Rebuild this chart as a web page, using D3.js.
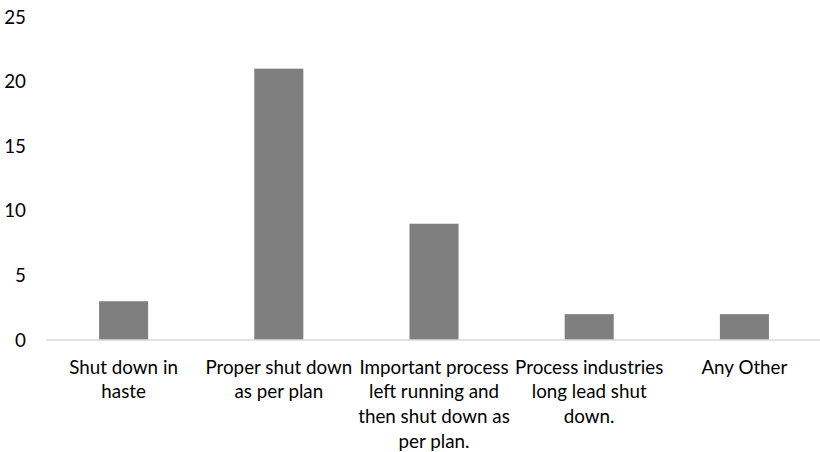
<!DOCTYPE html>
<html>
<head>
<meta charset="utf-8">
<script src="https://cdn.jsdelivr.net/npm/d3@7"></script>
<style>
  html, body { margin: 0; padding: 0; background: #ffffff; }
  svg { display: block; }
  text { font-family: Lato, "Open Sans", sans-serif; fill: #000000; }
</style>
</head>
<body>
<svg id="chart" width="820" height="452"></svg>
<script>
// Wrapped category labels, one entry per line of text
const categories = [
  ["Shut down in", "haste"],
  ["Proper shut down", "as per plan"],
  ["Important process", "left running and", "then shut down as", "per plan."],
  ["Process industries", "long lead shut", "down."],
  ["Any Other"]
];
const values = [3, 21, 9, 2, 2];
const yTicks = [0, 5, 10, 15, 20, 25];

const svg = d3.select("#chart");
const plot = { left: 46, right: 822, top: 17, bottom: 340 };
const fontSize = 18.8;

const keys = categories.map((c, i) => i);

const x = d3.scaleBand()
  .domain(keys)
  .range([plot.left, plot.right])
  .paddingInner(0.684)
  .paddingOuter(0.342);

const y = d3.scaleLinear()
  .domain([0, 25])
  .range([plot.bottom, plot.top]);

// Bars
svg.append("g")
  .selectAll("rect")
  .data(values)
  .join("rect")
  .attr("x", (d, i) => x(i))
  .attr("width", x.bandwidth())
  .attr("y", d => y(d))
  .attr("height", d => y(0) - y(d))
  .attr("fill", "#7f7f7f");

// Baseline
svg.append("line")
  .attr("x1", plot.left).attr("x2", 820)
  .attr("y1", y(0)).attr("y2", y(0))
  .attr("stroke", "#d9d9d9")
  .attr("stroke-width", 1.5);

// Y axis labels (no axis line, no tick marks)
const yAxis = d3.axisLeft(y).tickValues(yTicks).tickSize(0).tickPadding(0);
const gy = svg.append("g")
  .attr("transform", "translate(26,0)")
  .call(yAxis);
gy.select(".domain").remove();
gy.selectAll("text")
  .attr("font-size", fontSize)
  .attr("font-family", "Lato, 'Open Sans', sans-serif")
  .attr("fill", "#000");

// X category labels, centred under each bar
const gx = svg.append("g");
categories.forEach((lines, i) => {
  const t = gx.append("text")
    .attr("text-anchor", "middle")
    .attr("font-size", fontSize)
    .attr("x", x(i) + x.bandwidth() / 2)
    .attr("y", 373.5);
  lines.forEach((ln, j) => {
    t.append("tspan")
      .attr("x", x(i) + x.bandwidth() / 2)
      .attr("dy", j === 0 ? 0 : 24.8)
      .text(ln);
  });
});
</script>
</body>
</html>
